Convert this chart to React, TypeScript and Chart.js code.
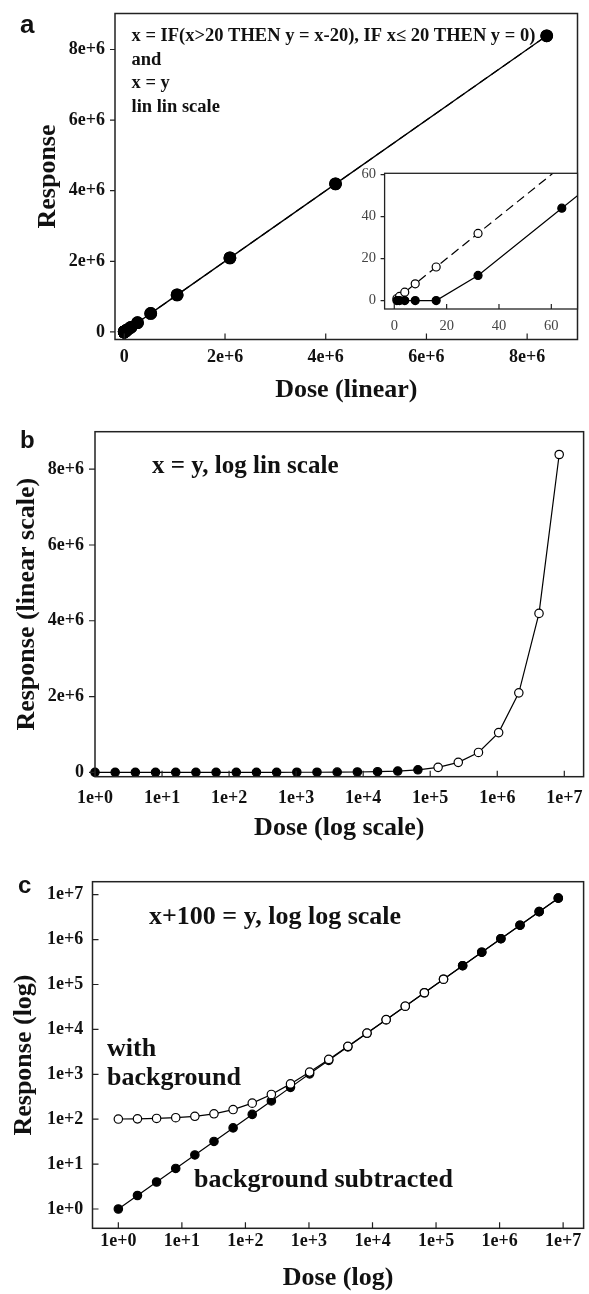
import React, { useEffect, useRef } from "react";
import { Chart, registerables } from "chart.js";

Chart.register(...registerables);

// ---------------- data ----------------
const doses = [1, 2, 4, 8, 16, 32, 64, 128, 256, 512, 1024, 2048, 4096, 8192, 16384, 32768, 65536, 131072, 262144, 524288, 1048576, 2097152, 4194304, 8388608];
// panel a, filled: y = x-20 above 20, else 0
const thresholdResponse = [0, 0, 0, 0, 0, 12, 44, 108, 236, 492, 1004, 2028, 4076, 8172, 16364, 32748, 65516, 131052, 262124, 524268, 1048556, 2097132, 4194284, 8388588];
// x = y
const identityResponse = [1, 2, 4, 8, 16, 32, 64, 128, 256, 512, 1024, 2048, 4096, 8192, 16384, 32768, 65536, 131072, 262144, 524288, 1048576, 2097152, 4194304, 8388608];
// panel c: x + 100 = y (with background)
const withBackgroundResponse = [101, 102, 104, 108, 116, 132, 164, 228, 356, 612, 1124, 2148, 4196, 8292, 16484, 32868, 65636, 131172, 262244, 524388, 1048676, 2097252, 4194404, 8388708];
// panel c: background subtracted
const subtractedResponse = [1, 2, 4, 8, 16, 32, 64, 128, 256, 512, 1024, 2048, 4096, 8192, 16384, 32768, 65536, 131072, 262144, 524288, 1048576, 2097152, 4194304, 8388608];

const linTicks = [0, 2e6, 4e6, 6e6, 8e6];
const linTickLabels = ["0", "2e+6", "4e+6", "6e+6", "8e+6"];
const insetTicks = [0, 20, 40, 60];
const insetTickLabels = ["0", "20", "40", "60"];
const logTicks = [1, 10, 100, 1e3, 1e4, 1e5, 1e6, 1e7];
const logTickLabels = ["1e+0", "1e+1", "1e+2", "1e+3", "1e+4", "1e+5", "1e+6", "1e+7"];

const panelALines = ["x = IF(x>20 THEN y = x-20), IF x\u2264 20 THEN y = 0)", "and", "x = y", "lin lin scale"];

const B_OPEN_FROM = 131072; // panel b: open circles from this dose
const C_OPEN_UNTIL = 131072; // panel c: with-background drawn open up to this dose

// ---------------- styles ----------------
const SERIF = "'Liberation Serif', 'Times New Roman', Times, serif";
const SANS = "'Liberation Sans', Arial, Helvetica, sans-serif";
const INK = "#111";
const tickFont = { family: SERIF, size: 18, weight: "bold" as const };
const titleFont = { family: SERIF, size: 26, weight: "bold" as const };

const pts = (ys: number[]) => doses.map((d, i) => ({ x: d, y: ys[i] }));

function axis(o: any) {
  const horizontal = o.horizontal;
  return {
    type: o.type,
    min: o.min,
    max: o.max,
    position: horizontal ? "bottom" : "left",
    grid: { display: false, drawTicks: false },
    border: { display: false },
    ticks: {
      autoSkip: false,
      maxRotation: 0,
      minRotation: 0,
      padding: o.pad,
      font: o.font,
      color: o.color || INK,
      callback: (_v: any, i: number) => o.labels[i],
    },
    title: o.title
      ? { display: true, text: o.title, font: titleFont, color: INK, padding: o.titlePad }
      : { display: false },
    afterBuildTicks: (s: any) => {
      s.ticks = o.ticks.map((v: number) => ({ value: v }));
    },
    afterFit: (s: any) => {
      if (horizontal) s.height = o.size;
      else s.width = o.size;
      s.paddingTop = 0;
      s.paddingBottom = 0;
      s.paddingLeft = 0;
      s.paddingRight = 0;
    },
  };
}

function decor(cfg: any) {
  return {
    id: "decor",
    beforeDraw(chart: any) {
      if (!cfg.fill) return;
      const a = chart.chartArea;
      const ctx = chart.ctx;
      ctx.save();
      ctx.fillStyle = "#fff";
      ctx.fillRect(a.left, a.top, a.right - a.left, a.bottom - a.top);
      ctx.restore();
    },
    afterDraw(chart: any) {
      const { ctx, chartArea: a } = chart;
      const xs = chart.scales.x;
      const ys = chart.scales.y;
      ctx.save();
      ctx.strokeStyle = "#222";
      ctx.lineWidth = cfg.boxWidth || 1.5;
      ctx.strokeRect(a.left, a.top, a.right - a.left, a.bottom - a.top);
      ctx.lineWidth = 1.2;
      ctx.beginPath();
      for (const v of cfg.xTicks) {
        const p = xs.getPixelForValue(v);
        if (p < a.left - 0.5 || p > a.right + 0.5) continue;
        ctx.moveTo(p, a.bottom);
        ctx.lineTo(p, a.bottom + (cfg.xIn ? -cfg.xLen : cfg.xLen));
      }
      for (const v of cfg.yTicks) {
        const p = ys.getPixelForValue(v);
        if (p < a.top - 0.5 || p > a.bottom + 0.5) continue;
        ctx.moveTo(a.left, p);
        ctx.lineTo(a.left + (cfg.yIn ? cfg.yLen : -cfg.yLen), p);
      }
      ctx.stroke();
      ctx.fillStyle = INK;
      ctx.textAlign = "left";
      ctx.textBaseline = "alphabetic";
      for (const t of cfg.texts || []) {
        ctx.font = t.font;
        ctx.fillText(t.t, t.x, t.y);
      }
      ctx.restore();
    },
  };
}

const baseOptions = (padding: any) => ({
  responsive: false,
  animation: false,
  events: [],
  layout: { padding },
  plugins: { legend: { display: false }, tooltip: { enabled: false } },
});

// ---------------- panel a (main) ----------------
function configA(): any {
  return {
    type: "line",
    data: {
      datasets: [
        {
          data: pts(identityResponse),
          borderColor: "#000",
          borderWidth: 1.2,
          borderDash: [9, 5],
          pointRadius: 5.8,
          pointBorderWidth: 1.2,
          pointBorderColor: "#000",
          pointBackgroundColor: "#fff",
          order: 2,
          clip: false,
        },
        {
          data: pts(thresholdResponse),
          borderColor: "#000",
          borderWidth: 1.3,
          pointRadius: 5.8,
          pointBorderWidth: 1.2,
          pointBorderColor: "#000",
          pointBackgroundColor: "#000",
          order: 1,
          clip: false,
        },
      ],
    },
    options: {
      ...baseOptions({ left: 0, top: 13.5, right: 11.5, bottom: 0 }),
      scales: {
        x: axis({ horizontal: true, type: "linear", min: -0.185e6, max: 9.0e6, ticks: linTicks, labels: linTickLabels, font: tickFont, pad: 7, size: 80.5, title: "Dose (linear)", titlePad: { top: 0, bottom: 14.4 } }),
        y: axis({ horizontal: false, type: "linear", min: -0.215e6, max: 9.02e6, ticks: linTicks, labels: linTickLabels, font: tickFont, pad: 10, size: 115, title: "Response", titlePad: { top: 32.4, bottom: 0 } }),
      },
    },
    plugins: [
      decor({
        xTicks: linTicks, yTicks: linTicks, xIn: true, xLen: 6, yIn: false, yLen: 5,
        texts: [
          { t: "a", x: 20, y: 33, font: `bold 26px ${SANS}` },
          { t: panelALines[0], x: 131.5, y: 41, font: `bold 18.5px ${SERIF}` },
          { t: panelALines[1], x: 131.5, y: 64.7, font: `bold 18.5px ${SERIF}` },
          { t: panelALines[2], x: 131.5, y: 88.4, font: `bold 18.5px ${SERIF}` },
          { t: panelALines[3], x: 131.5, y: 112.1, font: `bold 18.5px ${SERIF}` },
        ],
      }),
    ],
  };
}

// ---------------- panel a (inset) ----------------
function configInset(): any {
  const insetFont = { family: SERIF, size: 14.5, weight: "normal" as const };
  return {
    type: "line",
    data: {
      datasets: [
        {
          data: pts(identityResponse),
          borderColor: "#000",
          borderWidth: 1.2,
          borderDash: [9, 5],
          pointRadius: 4,
          pointBorderWidth: 1.2,
          pointBorderColor: "#000",
          pointBackgroundColor: "#fff",
          order: 2,
        },
        {
          data: pts(thresholdResponse),
          borderColor: "#000",
          borderWidth: 1.2,
          pointRadius: 4,
          pointBorderWidth: 1.2,
          pointBorderColor: "#000",
          pointBackgroundColor: "#000",
          order: 1,
        },
      ],
    },
    options: {
      ...baseOptions({ left: 0, top: 13.3, right: 11.5, bottom: 0 }),
      scales: {
        x: axis({ horizontal: true, type: "linear", min: -3.7, max: 70, ticks: insetTicks, labels: insetTickLabels, font: insetFont, color: "#444", pad: 8.3, size: 31 }),
        y: axis({ horizontal: false, type: "linear", min: -4, max: 60.6, ticks: insetTicks, labels: insetTickLabels, font: insetFont, color: "#444", pad: 8.6, size: 44.6 }),
      },
    },
    plugins: [decor({ fill: true, xTicks: insetTicks, yTicks: insetTicks, xIn: true, xLen: 5, yIn: false, yLen: 4, boxWidth: 1.3, texts: [] })],
  };
}

// ---------------- panel b ----------------
function configB(): any {
  return {
    type: "line",
    data: {
      datasets: [
        {
          data: pts(identityResponse),
          borderColor: "#000",
          borderWidth: 1.2,
          pointRadius: 4.2,
          pointBorderWidth: 1.2,
          pointBorderColor: "#000",
          pointBackgroundColor: (c: any) => (c.raw && c.raw.x >= B_OPEN_FROM ? "#fff" : "#000"),
          clip: false,
        },
      ],
    },
    options: {
      ...baseOptions({ left: 0, top: 11.7, right: 1.5, bottom: 0 }),
      scales: {
        x: axis({ horizontal: true, type: "logarithmic", min: 1, max: 1.94e7, ticks: logTicks, labels: logTickLabels, font: tickFont, pad: 10.8, size: 83.3, title: "Dose (log scale)", titlePad: { top: 0, bottom: 16.4 } }),
        y: axis({ horizontal: false, type: "linear", min: -0.116e6, max: 8.99e6, ticks: linTicks, labels: linTickLabels, font: tickFont, pad: 11, size: 95, title: "Response (linear scale)", titlePad: { top: 11.4, bottom: 0 } }),
      },
    },
    plugins: [
      decor({
        xTicks: logTicks, yTicks: linTicks, xIn: true, xLen: 6, yIn: false, yLen: 6,
        texts: [
          { t: "b", x: 20, y: 28, font: `bold 24px ${SANS}` },
          { t: "x = y, log lin scale", x: 152, y: 53, font: `bold 25px ${SERIF}` },
        ],
      }),
    ],
  };
}

// ---------------- panel c ----------------
function configC(): any {
  return {
    type: "line",
    data: {
      datasets: [
        {
          data: pts(subtractedResponse),
          borderColor: "#000",
          borderWidth: 1.2,
          pointRadius: 4.2,
          pointBorderWidth: 1.2,
          pointBorderColor: "#000",
          pointBackgroundColor: "#000",
          order: 2,
          clip: false,
        },
        {
          data: pts(withBackgroundResponse),
          borderColor: "#000",
          borderWidth: 1.2,
          pointRadius: 4.2,
          pointBorderWidth: 1.2,
          pointBorderColor: "#000",
          pointBackgroundColor: (c: any) => (c.raw && c.raw.x <= C_OPEN_UNTIL ? "#fff" : "#000"),
          order: 1,
          clip: false,
        },
      ],
    },
    options: {
      ...baseOptions({ left: 0, top: 21.7, right: 1, bottom: 0 }),
      scales: {
        x: axis({ horizontal: true, type: "logarithmic", min: 0.392, max: 2.1e7, ticks: logTicks, labels: logTickLabels, font: tickFont, pad: 2.6, size: 65.7, title: "Dose (log)", titlePad: { top: 0, bottom: 0 } }),
        y: axis({ horizontal: false, type: "logarithmic", min: 0.372, max: 1.95e7, ticks: logTicks, labels: logTickLabels, font: tickFont, pad: 9.2, size: 92.5, title: "Response (log)", titlePad: { top: 8.4, bottom: 0 } }),
      },
    },
    plugins: [
      decor({
        xTicks: logTicks, yTicks: logTicks, xIn: true, xLen: 6, yIn: true, yLen: 6,
        texts: [
          { t: "c", x: 18, y: 33, font: `bold 24px ${SANS}` },
          { t: "x+100 = y, log log scale", x: 149, y: 64, font: `bold 26px ${SERIF}` },
          { t: "with", x: 107, y: 195.5, font: `bold 26px ${SERIF}` },
          { t: "background", x: 107, y: 225, font: `bold 26px ${SERIF}` },
          { t: "background subtracted", x: 194, y: 327, font: `bold 26px ${SERIF}` },
        ],
      }),
    ],
  };
}

function ChartCanvas(props: { left: number; top: number; width: number; height: number; make: () => any }) {
  const { left, top, width, height, make } = props;
  const ref = useRef<HTMLCanvasElement | null>(null);
  useEffect(() => {
    if (!ref.current) return;
    const chart = new Chart(ref.current, make());
    return () => chart.destroy();
  }, [make]);
  return (
    <canvas
      ref={ref}
      width={width}
      height={height}
      style={{ position: "absolute", left, top, width, height, display: "block" }}
    />
  );
}

export default function App() {
  return (
    <div style={{ position: "absolute", left: 0, top: 0, width: 589, height: 1294, background: "#fff", overflow: "hidden" }}>
      <ChartCanvas left={0} top={0} width={589} height={420} make={configA} />
      <ChartCanvas left={340} top={160} width={249} height={180} make={configInset} />
      <ChartCanvas left={0} top={420} width={589} height={440} make={configB} />
      <ChartCanvas left={0} top={860} width={589} height={434} make={configC} />
    </div>
  );
}
